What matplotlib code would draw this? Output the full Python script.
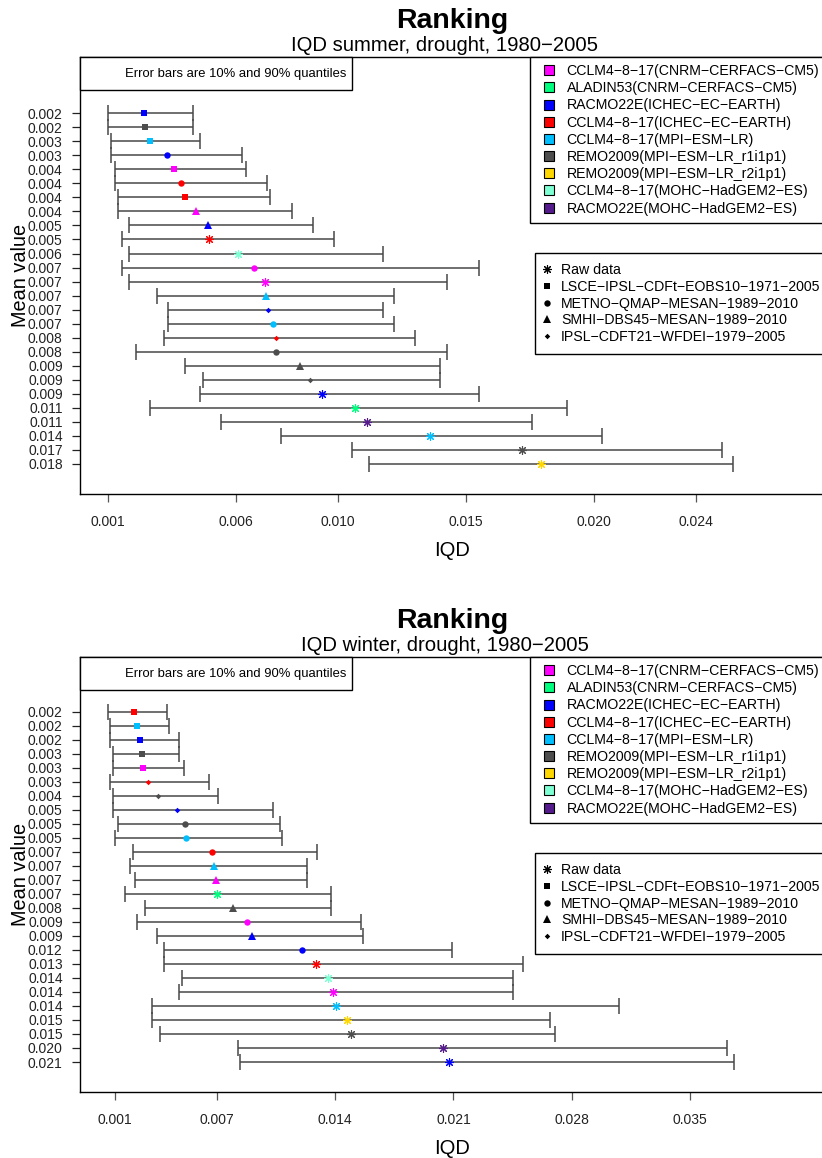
import numpy as np
import matplotlib.pyplot as plt
from matplotlib.lines import Line2D
from matplotlib.patches import Rectangle

plt.rcParams['font.family'] = ['Liberation Sans', 'DejaVu Sans']

models = ['CCLM4-8-17(CNRM-CERFACS-CM5)', 'ALADIN53(CNRM-CERFACS-CM5)',
          'RACMO22E(ICHEC-EC-EARTH)', 'CCLM4-8-17(ICHEC-EC-EARTH)',
          'CCLM4-8-17(MPI-ESM-LR)', 'REMO2009(MPI-ESM-LR_r1i1p1)',
          'REMO2009(MPI-ESM-LR_r2i1p1)', 'CCLM4-8-17(MOHC-HadGEM2-ES)',
          'RACMO22E(MOHC-HadGEM2-ES)']
model_colors = ['#FF00FF', '#00FF7F', '#0000FF', '#FF0000', '#00BFFF',
                '#4D4D4D', '#FFD700', '#7FFFD4', '#551A8B']

methods = ['Raw data', 'LSCE-IPSL-CDFt-EOBS10-1971-2005',
           'METNO-QMAP-MESAN-1989-2010', 'SMHI-DBS45-MESAN-1989-2010',
           'IPSL-CDFT21-WFDEI-1979-2005']
# marker, size (pt), edge width
method_markers = [((8, 2, 0), 6.2, 0.8), ('s', 5.0, 0), ('o', 4.6, 0),
                  ('^', 5.4, 0), ('D', 2.8, 0)]

# summer: mean, 10% and 90% quantiles, model index, method index
summer_mean = [0.00241, 0.00245, 0.00264, 0.00330, 0.00358, 0.00386, 0.00401,
               0.00442, 0.00490, 0.00494, 0.00608, 0.00672, 0.00715, 0.00717,
               0.00726, 0.00744, 0.00755, 0.00758, 0.00852, 0.00891, 0.00937,
               0.01066, 0.01112, 0.01360, 0.01720, 0.01795]
summer_lo = [0.00098, 0.00098, 0.00112, 0.00112, 0.00126, 0.00126, 0.00139,
             0.00139, 0.00181, 0.00155, 0.00181, 0.00155, 0.00181, 0.00292,
             0.00333, 0.00333, 0.00319, 0.00210, 0.00401, 0.00472, 0.00458,
             0.00264, 0.00541, 0.00776, 0.01053, 0.01122]
summer_hi = [0.00430, 0.00430, 0.00458, 0.00625, 0.00638, 0.00721, 0.00734,
             0.00818, 0.00900, 0.00982, 0.01177, 0.01550, 0.01425, 0.01219,
             0.01177, 0.01219, 0.01301, 0.01425, 0.01399, 0.01399, 0.01550,
             0.01896, 0.01759, 0.02034, 0.02504, 0.02546]
summer_model = [2, 5, 4, 2, 0, 3, 3, 0, 2, 3, 7, 0, 0, 4, 2, 4, 3, 5, 5, 5,
                2, 1, 8, 4, 5, 6]
summer_method = [1, 1, 1, 2, 1, 2, 1, 3, 3, 0, 0, 2, 0, 3, 4, 2, 4, 2, 3, 4,
                 0, 0, 0, 0, 0, 0]
summer_ticks = [0.001, 0.006, 0.010, 0.015, 0.020, 0.024]

# winter
winter_mean = [0.00214, 0.00232, 0.00247, 0.00261, 0.00267, 0.00295, 0.00354,
               0.00468, 0.00514, 0.00518, 0.00675, 0.00683, 0.00697, 0.00701,
               0.00799, 0.00878, 0.00911, 0.01207, 0.01288, 0.01359, 0.01387,
               0.01404, 0.01469, 0.01493, 0.02038, 0.02076]
winter_lo = [0.00057, 0.00072, 0.00072, 0.00088, 0.00088, 0.00072, 0.00088,
             0.00088, 0.00116, 0.00102, 0.00205, 0.00189, 0.00216, 0.00159,
             0.00276, 0.00232, 0.00348, 0.00391, 0.00391, 0.00494, 0.00480,
             0.00320, 0.00320, 0.00364, 0.00827, 0.00840]
winter_hi = [0.00406, 0.00421, 0.00480, 0.00480, 0.00508, 0.00654, 0.00711,
             0.01032, 0.01073, 0.01089, 0.01292, 0.01235, 0.01235, 0.01378,
             0.01378, 0.01554, 0.01567, 0.02092, 0.02513, 0.02454, 0.02454,
             0.03077, 0.02673, 0.02702, 0.03717, 0.03760]
winter_model = [3, 4, 2, 5, 0, 3, 5, 2, 5, 4, 3, 4, 0, 1, 5, 0, 2, 2, 3, 7,
                0, 4, 6, 5, 8, 2]
winter_method = [1, 1, 1, 1, 1, 4, 4, 4, 2, 2, 2, 3, 3, 0, 3, 2, 3, 2, 0, 0,
                 0, 0, 0, 0, 0, 0]
winter_ticks = [0.001, 0.007, 0.014, 0.021, 0.028, 0.035]


def minus(s):
    return s.replace('-', '\u2212')


W, H = 822, 1158
fig = plt.figure(figsize=(W / 100, H / 100), dpi=100)


def panel(top, bottom, xlim, ylim, mean, lo, hi, model, method, ticks, season):
    ax = fig.add_axes([80 / W, 1 - bottom / H, 744 / W, (bottom - top) / H])
    mean, lo, hi = np.array(mean), np.array(lo), np.array(hi)
    y = np.arange(1, len(mean) + 1)

    ax.errorbar(mean, y, xerr=[mean - lo, hi - mean], fmt='none',
                ecolor='#484848', elinewidth=1.1, capsize=6.1, capthick=1.1,
                zorder=2)
    for i in range(len(mean)):
        mk, ms, mew = method_markers[method[i]]
        c = model_colors[model[i]]
        ax.plot(mean[i], y[i], ls='none', marker=mk, ms=ms, mew=mew,
                color=c, mec=c, zorder=3)

    ax.set_xlim(xlim)
    ax.set_ylim(ylim)
    ax.set_yticks(y)
    ax.set_yticklabels([f'{m:.3f}' for m in mean], fontsize=10)
    ax.set_xticks(ticks)
    ax.set_xticklabels([f'{t:.3f}' for t in ticks], fontsize=10)
    ax.tick_params(axis='y', direction='out', length=6, width=0.9,
                   colors='#222222', pad=6.5)
    ax.tick_params(axis='x', direction='out', length=6, width=0.9,
                   colors='#555555', labelcolor='#222222', pad=9)
    for s in ax.spines.values():
        s.set_linewidth(1.0)

    # note box in the top left corner
    bh = 33 / (bottom - top)
    ax.add_patch(Rectangle((0, 1 - bh), 272 / 744, bh, transform=ax.transAxes,
                           facecolor='white', edgecolor='black', lw=1.0,
                           zorder=5, clip_on=False))
    ax.text(266 / 744, 1 - bh / 2, 'Error bars are 10% and 90% quantiles',
            transform=ax.transAxes, ha='right', va='center', fontsize=9.4,
            zorder=6)

    mh = [Line2D([], [], ls='none', marker='s', ms=7.2, mew=0.8,
                 mfc=c, mec='black') for c in model_colors]
    leg1 = ax.legend(mh, [minus(m) for m in models], loc='upper left',
                     bbox_to_anchor=(450 / 744, 1.0), borderaxespad=0,
                     fontsize=10.2, frameon=True, fancybox=False,
                     edgecolor='black', framealpha=1, borderpad=0.5,
                     labelspacing=0.225, handlelength=1.63, handletextpad=0.45)
    leg1.get_frame().set_linewidth(1.0)
    ax.add_artist(leg1)

    th = [Line2D([], [], ls='none', marker=mk, ms=ms, mew=mew,
                 color='black') for mk, ms, mew in method_markers]
    leg2 = ax.legend(th, [minus(m) for m in methods], loc='upper left',
                     bbox_to_anchor=(455 / 744, 1 - 196 / (bottom - top)),
                     borderaxespad=0, fontsize=10.2, frameon=True,
                     fancybox=False, edgecolor='black', framealpha=1,
                     borderpad=0.69, labelspacing=0.204, handlelength=0.31,
                     handletextpad=0.83)
    leg2.get_frame().set_linewidth(1.0)

    fig.text(452 / W, 1 - (top - 28.5) / H, 'Ranking', ha='center',
             va='baseline', fontsize=20.5, fontweight='bold')
    fig.text(444.5 / W, 1 - (top - 6) / H,
             minus(f'IQD {season}, drought, 1980-2005'), ha='center',
             va='baseline', fontsize=14.6)
    fig.text(452 / W, 1 - (bottom + 61.5) / H, 'IQD', ha='center',
             va='baseline', fontsize=14.5)
    fig.text(20.5 / W, 1 - (top + bottom) / 2 / H, 'Mean value', rotation=90,
             ha='center', va='center', fontsize=14.3)
    return ax


panel(57, 494.3, (-0.000108, 0.029023), (28.18, -3.02), summer_mean,
      summer_lo, summer_hi, summer_model, summer_method, summer_ticks, 'summer')
panel(657, 1092, (-0.001068, 0.0429), (28.14, -2.90), winter_mean,
      winter_lo, winter_hi, winter_model, winter_method, winter_ticks, 'winter')

fig.savefig('out.png', dpi=100)
